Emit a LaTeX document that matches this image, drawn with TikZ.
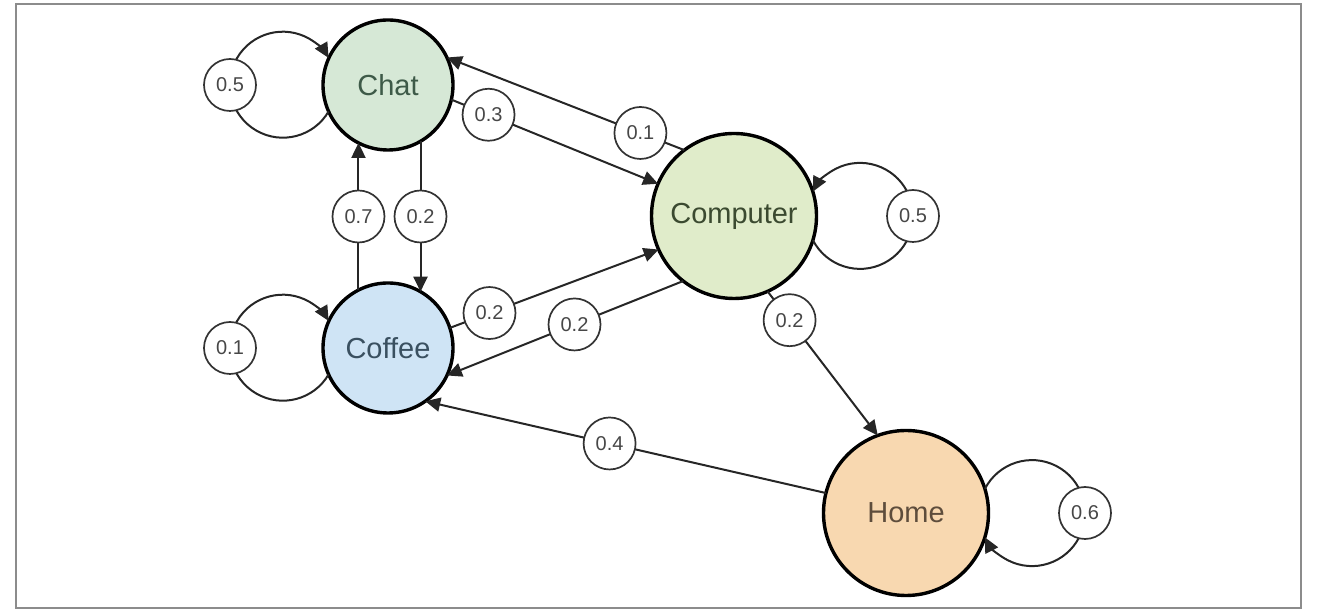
\documentclass[tikz,border=0pt]{standalone}
\usepackage{fontspec}
\setmainfont{Liberation Sans}
\usetikzlibrary{arrows.meta}

\definecolor{chatfill}{HTML}{D6E8D6}
\definecolor{compfill}{HTML}{E0ECCA}
\definecolor{coffeefill}{HTML}{CFE4F5}
\definecolor{homefill}{HTML}{F8D8B0}
\definecolor{chattext}{HTML}{3E5A48}
\definecolor{comptext}{HTML}{3B4A30}
\definecolor{coffeetext}{HTML}{3A5060}
\definecolor{hometext}{HTML}{5E4D3C}

\begin{document}
\begin{tikzpicture}[x=1pt, y=1pt,
  state/.style={circle, draw=black, line width=3.4pt, inner sep=0pt, outer sep=0pt,
    minimum size=#1, font=\fontsize{29}{33}\selectfont},
  lbl/.style={circle, draw=black!80, line width=1.7pt, fill=white, inner sep=0pt,
    minimum size=52pt, font=\fontsize{20}{23}\selectfont, text=black!72},
  link/.style={draw=black!85, line width=2pt, -{Triangle[length=15pt, width=14pt]}}
]
\useasboundingbox (0,0) rectangle (1317,612);
% outer frame
\draw[black!45, line width=2.4pt] (16,4) rectangle (1301,608);

% states
\node[state=130pt, fill=chatfill, text=chattext] (chat) at (388,527) {Chat};
\node[state=130pt, fill=coffeefill, text=coffeetext] (coffee) at (388,264) {Coffee};
\node[state=165pt, fill=compfill, text=comptext] (computer) at (734,396) {Computer};
\node[state=165pt, fill=homefill, text=hometext] (home) at (906,99) {Home};

% transitions between states
\draw[link] (coffee.117) -- node[lbl] (p07) {0.7} (chat.243);
\draw[link] (chat.300) -- node[lbl] (p02a) {0.2} (coffee.60);
\draw[link] (chat.347) -- node[lbl, pos=0.18] (p03) {0.3} (computer.157);
\draw[link] (computer.127) -- node[lbl, pos=0.185] (p01) {0.1} (chat.25);
\draw[link] (coffee.18) -- node[lbl, pos=0.19] (p02b) {0.2} (computer.204);
\draw[link] (computer.232) -- node[lbl, pos=0.46] (p02c) {0.2} (coffee.335);
\draw[link] (computer.294) -- node[lbl, pos=0.2] (p02d) {0.2} (home.110);
\draw[link] (home.166) -- node[lbl, pos=0.54] (p04) {0.4} (coffee.305);

% self loops
\draw[link] (chat.204.3) arc[start angle=-30.3, end angle=-329.7, radius=53];
\node[lbl] (p05a) at (230,527) {0.5};
\draw[link] (coffee.204.3) arc[start angle=-30.3, end angle=-329.7, radius=53];
\node[lbl] (p01b) at (230,264) {0.1};
\draw[link] (computer.343) arc[start angle=207.2, end angle=512.8, radius=53];
\node[lbl] (p05b) at (913,396) {0.5};
\draw[link] (home.17) arc[start angle=152.8, end angle=-152.8, radius=53];
\node[lbl] (p06) at (1085,99) {0.6};
\end{tikzpicture}
\end{document}
